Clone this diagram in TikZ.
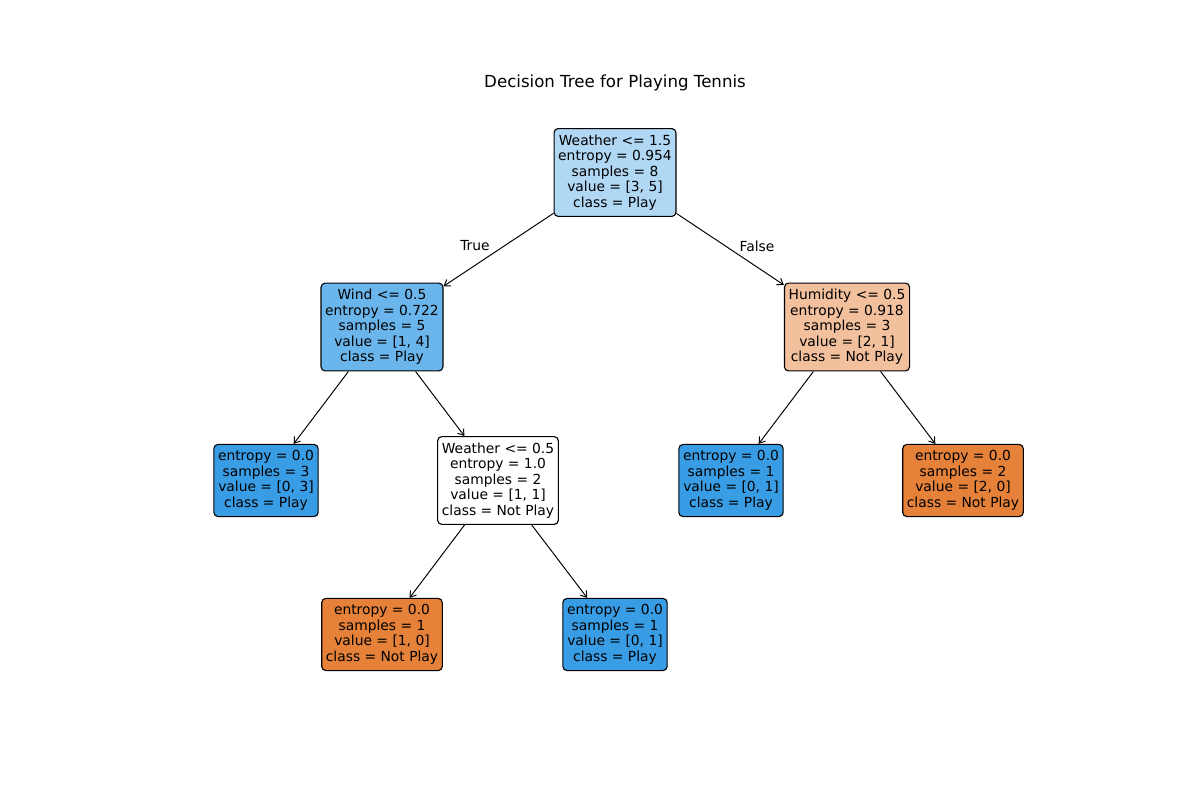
\documentclass[tikz,border=0pt]{standalone}
\usepackage{fontspec}
\setmainfont{DejaVu Sans}
\usepackage{tikz}
\usetikzlibrary{arrows.meta}
\definecolor{playblue}{HTML}{399DE5}
\definecolor{notplay}{HTML}{E58139}
\definecolor{rootblue}{HTML}{B0D8F5}
\definecolor{windblue}{HTML}{6AB6EC}
\definecolor{humorange}{HTML}{F2C09C}

\begin{document}
\begin{tikzpicture}[x=0.01in,y=-0.01in,
	treenode/.style={draw,rounded corners=3pt,align=center,line width=0.8pt,
		inner xsep=3pt,inner ysep=4.5pt,font=\fontsize{10}{11.2}\selectfont},
	edge/.style={-{Straight Barb[length=4pt,width=5.5pt]},line width=0.7pt}]
	\useasboundingbox (0,0) rectangle (1200,800);
	\node[font=\fontsize{12}{14}\selectfont] (title) at (615,83) {Decision Tree for Playing Tennis};

	% internal nodes
	\node[treenode,fill=rootblue] (weather) at (615,172.5) {Weather <= 1.5\\entropy = 0.954\\samples = 8\\value = [3, 5]\\class = Play};
	\node[treenode,fill=windblue] (wind) at (382,327) {Wind <= 0.5\\entropy = 0.722\\samples = 5\\value = [1, 4]\\class = Play};
	\node[treenode,fill=humorange] (humidity) at (847,327) {Humidity <= 0.5\\entropy = 0.918\\samples = 3\\value = [2, 1]\\class = Not Play};
	\node[treenode,fill=white] (weathertwo) at (498,480.5) {Weather <= 0.5\\entropy = 1.0\\samples = 2\\value = [1, 1]\\class = Not Play};

	% leaves
	\node[treenode,fill=playblue] (leafa) at (266,480.5) {entropy = 0.0\\samples = 3\\value = [0, 3]\\class = Play};
	\node[treenode,fill=playblue] (leafb) at (731,480.5) {entropy = 0.0\\samples = 1\\value = [0, 1]\\class = Play};
	\node[treenode,fill=notplay] (leafc) at (963,480.5) {entropy = 0.0\\samples = 2\\value = [2, 0]\\class = Not Play};
	\node[treenode,fill=notplay] (leafd) at (382,634.5) {entropy = 0.0\\samples = 1\\value = [1, 0]\\class = Not Play};
	\node[treenode,fill=playblue] (leafe) at (615,634.5) {entropy = 0.0\\samples = 1\\value = [0, 1]\\class = Play};

	% edges
	\draw[edge] (weather) -- (wind);
	\draw[edge] (weather) -- (humidity);
	\draw[edge] (wind) -- (leafa);
	\draw[edge] (wind) -- (weathertwo);
	\draw[edge] (humidity) -- (leafb);
	\draw[edge] (humidity) -- (leafc);
	\draw[edge] (weathertwo) -- (leafd);
	\draw[edge] (weathertwo) -- (leafe);

	\node[font=\fontsize{10}{12}\selectfont] (truelabel) at (475,246) {True};
	\node[font=\fontsize{10}{12}\selectfont] (falselabel) at (757,246) {False};
\end{tikzpicture}
\end{document}
